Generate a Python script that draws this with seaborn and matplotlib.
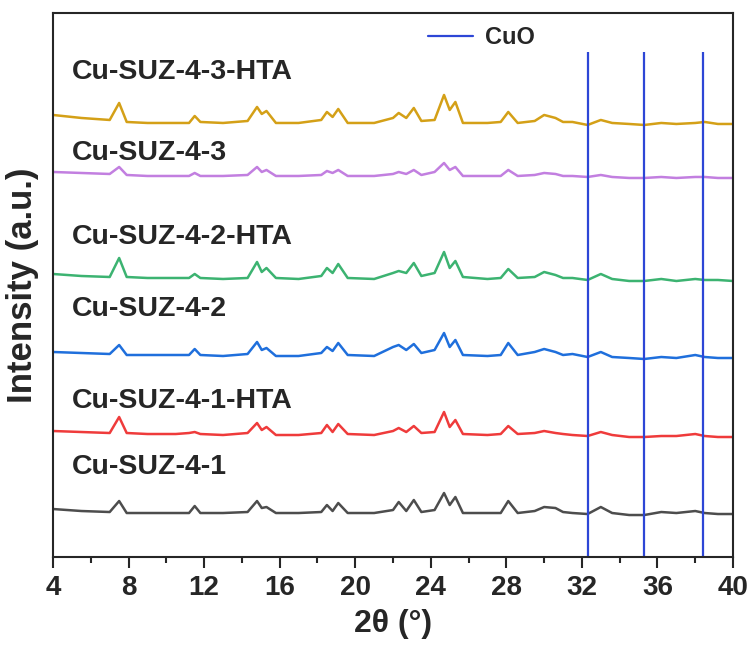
import numpy as np
import pandas as pd
import matplotlib
matplotlib.use('Agg')
import matplotlib.pyplot as plt
import seaborn as sns
from matplotlib.lines import Line2D
from matplotlib.ticker import MultipleLocator

# 2theta sample points
two_theta = [4.0, 5.5, 7.0, 7.5, 7.9, 9.0, 10.5, 11.2, 11.5, 11.8, 13.0, 14.3, 14.8, 15.05, 15.3,
             15.8, 17.0, 18.2, 18.5, 18.8, 19.1, 19.6, 21.0, 22.0, 22.3, 22.7, 23.1, 23.5, 24.2,
             24.7, 25.0, 25.3, 25.7, 27.0, 27.7, 28.1, 28.6, 29.5, 30.0, 30.6, 31.0, 31.5, 32.3,
             33.0, 33.6, 34.5, 35.3, 36.2, 37.0, 38.0, 38.5, 39.2, 40.0]

# intensities (a.u.)
suz41 = [9, 7, 6, 17, 5, 5, 5, 5, 12, 5, 5, 6, 17, 10, 11, 5, 5, 6, 13, 7, 15, 5, 5, 8, 16, 7,
         18, 6, 8, 25, 13, 21, 5, 5, 5, 17, 5, 7, 11, 10, 6, 5, 4, 11, 5, 3, 3, 6, 5, 7, 5, 4, 4]
suz41_hta = [9, 8, 7, 23, 7, 6, 6, 7, 8, 6, 5, 7, 17, 10, 13, 5, 5, 7, 15, 8, 16, 6, 5, 9, 12, 8,
             14, 7, 8, 28, 13, 20, 6, 5, 6, 14, 6, 7, 9, 7, 6, 5, 4, 8, 5, 3, 3, 4, 4, 6, 4, 3, 3]
suz42 = [8, 7, 6, 15, 5, 5, 5, 5, 11, 5, 4, 6, 18, 10, 12, 4, 4, 7, 13, 9, 17, 5, 4, 13, 15, 10,
         16, 7, 10, 27, 13, 20, 5, 4, 5, 17, 5, 8, 11, 8, 5, 6, 3, 8, 3, 2, 1, 3, 2, 5, 3, 2, 2]
suz42_hta = [10, 8, 7, 26, 7, 6, 6, 6, 10, 6, 5, 6, 22, 12, 16, 6, 5, 8, 16, 11, 20, 6, 5, 11, 13,
             11, 21, 8, 11, 32, 16, 23, 7, 5, 6, 15, 6, 7, 12, 9, 6, 6, 4, 10, 5, 3, 3, 5, 3, 5, 4,
             4, 3]
suz43 = [7, 6, 5, 12, 4, 3, 3, 3, 6, 3, 3, 4, 12, 7, 9, 3, 3, 4, 8, 6, 9, 3, 3, 5, 7, 5, 9, 4,
         7, 16, 9, 12, 3, 3, 3, 9, 3, 4, 6, 5, 3, 3, 2, 4, 2, 1, 1, 2, 1, 2, 2, 1, 1]
suz43_hta = [11, 8, 6, 23, 4, 3, 3, 3, 10, 4, 3, 5, 19, 12, 15, 3, 3, 6, 14, 9, 17, 3, 3, 8, 13, 8,
             18, 5, 6, 31, 16, 24, 3, 3, 4, 14, 3, 5, 11, 8, 4, 4, 1, 6, 3, 2, 1, 3, 2, 3, 4, 2, 2]

names = ['Cu-SUZ-4-1', 'Cu-SUZ-4-1-HTA', 'Cu-SUZ-4-2', 'Cu-SUZ-4-2-HTA', 'Cu-SUZ-4-3', 'Cu-SUZ-4-3-HTA']
offsets = [39, 117, 197, 273, 378, 431]
label_y = [90, 156, 248, 320, 404, 485]
colors = ['#4d4d4d', '#ef3b3b', '#1f6fdc', '#3cb371', '#c27fe0', '#d4a017']

cuo_peaks = [32.3, 35.3, 38.4]
cuo_color = '#2d46d6'

series = [suz41, suz41_hta, suz42, suz42_hta, suz43, suz43_hta]
df = pd.concat([
    pd.DataFrame({'2theta': two_theta, 'I': np.array(s) + off, 'sample': n})
    for s, off, n in zip(series, offsets, names)
])

sns.set_style('ticks')
plt.rcParams['font.family'] = ['Liberation Sans', 'DejaVu Sans']
plt.rcParams['font.weight'] = 'bold'

fig = plt.figure(figsize=(7.48, 6.48), dpi=100)
ax = fig.add_axes([0.0709, 0.1404, 0.9091, 0.8396])

sns.lineplot(data=df, x='2theta', y='I', hue='sample', palette=dict(zip(names, colors)),
             sort=False, estimator=None, lw=1.8, legend=False, ax=ax)

ax.vlines(cuo_peaks, 0, 505, color=cuo_color, lw=1.6)

for n, y in zip(names, label_y):
    ax.text(5.0, y, n, fontsize=20.5, fontweight='bold', va='center', ha='left')

ax.legend(handles=[Line2D([], [], color=cuo_color, lw=1.6, label='CuO')],
          loc='upper left', bbox_to_anchor=(0.52, 1.015), frameon=False,
          prop={'size': 17, 'weight': 'bold'}, handlelength=1.9, handletextpad=0.5)

ax.set_xlim(4, 40)
ax.set_ylim(0, 544)
ax.xaxis.set_major_locator(MultipleLocator(4))
ax.xaxis.set_minor_locator(MultipleLocator(2))
ax.set_yticks([])
ax.tick_params(axis='x', which='major', direction='out', length=8, width=1.5, labelsize=20, pad=5)
ax.tick_params(axis='x', which='minor', direction='out', length=4, width=1.5)
for sp in ax.spines.values():
    sp.set_linewidth(1.5)
for lab in ax.get_xticklabels():
    lab.set_fontweight('bold')

ax.set_xlabel('2θ (°)', fontsize=23, fontweight='bold', labelpad=6)
ax.set_ylabel('Intensity (a.u.)', fontsize=25, fontweight='bold', labelpad=10)

fig.savefig('out.png', dpi=100)
